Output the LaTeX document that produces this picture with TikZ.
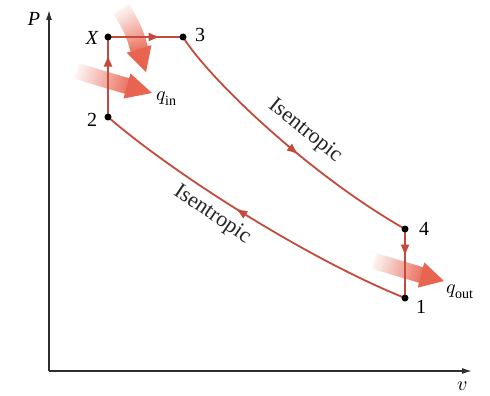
\documentclass[tikz,border=0pt]{standalone}
\usepackage{fontspec}
\setmainfont{Liberation Serif}
\usepackage{unicode-math}
\setmathfont{Latin Modern Math}
\usetikzlibrary{calc,decorations.markings,arrows.meta}
\definecolor{cyc}{RGB}{196,74,62}
\definecolor{heat}{RGB}{232,100,80}
\definecolor{axisc}{RGB}{45,45,50}
\tikzset{
  cycline/.style={draw=cyc, line width=1.8pt},
  midarrow/.style={postaction={decorate,decoration={markings,
     mark=at position #1 with {\arrow[cyc]{Latex[length=12pt,width=9pt]}}}}},
  statept/.style={circle, fill=black, inner sep=0pt, minimum size=7pt},
  lbl/.style={font=\fontsize{20}{22}\selectfont, inner sep=1pt},
  isolbl/.style={font=\fontsize{22}{24}\selectfont, inner sep=1pt, text=black!85},
  axisline/.style={draw=axisc, line width=1.4pt, -{Latex[length=10pt,width=6pt]}}
}
% heat arrow: tail P0, control P1, shaft end P2, tip T, shaft width, head half width
\newcommand\heatarrow[6]{%
  \foreach \i in {0,...,23}{%
    \pgfmathsetmacro\ta{\i/24}%
    \pgfmathsetmacro\tb{(\i+1.3)/24}%
    \pgfmathsetmacro\cmix{8+\i*3.4}%
    \path let \p0=#1, \p1=#2, \p2=#3 in
      coordinate (ha) at ({(1-\ta)^2*\x0+2*\ta*(1-\ta)*\x1+\ta^2*\x2},{(1-\ta)^2*\y0+2*\ta*(1-\ta)*\y1+\ta^2*\y2})
      coordinate (hb) at ({(1-\tb)^2*\x0+2*\tb*(1-\tb)*\x1+\tb^2*\x2},{(1-\tb)^2*\y0+2*\tb*(1-\tb)*\y1+\tb^2*\y2});
    \draw[draw=heat!\cmix!white, line width=#5] (ha) -- (hb);
  }
  \fill[heat] ($#3!#6!90:#4$) -- #4 -- ($#3!#6!-90:#4$) -- cycle;
}
\begin{document}
\begin{tikzpicture}[x=1pt,y=-1pt]
\useasboundingbox (0,0) rectangle (490,396);
\fill[white] (0,0) rectangle (490,396);
% axes
\coordinate (O) at (49,371);
\coordinate (Ptop) at (49,10);
\coordinate (Vend) at (472,371);
\draw[axisline] (O) -- (Ptop);
\draw[axisline] (O) -- (Vend);
\node[lbl, font=\fontsize{20}{22}\selectfont\itshape] (Plab) at (34,19) {P};
\node[lbl] (vlab) at (462,386) {$v$};
% states
\coordinate (X) at (108,37);
\coordinate (S3) at (183,37);
\coordinate (S2) at (108,117);
\coordinate (S4) at (405,229);
\coordinate (S1) at (405,298);
% heat arrows (drawn below cycle lines)
\heatarrow{(121,9)}{(135,30)}{(139,49)}{(146,72)}{18pt}{13pt}
\heatarrow{(77,71)}{(103,79)}{(127,86)}{(152,93)}{16pt}{13pt}
\heatarrow{(374,261)}{(398,268)}{(421,275)}{(444,281)}{16pt}{13pt}
% cycle
\draw[cycline, midarrow=0.78] (S2) -- (X);
\draw[cycline, midarrow=0.7] (X) -- (S3);
\draw[cycline, midarrow=0.56] (S3) .. controls (210,80) and (310,175) .. (S4);
\draw[cycline, midarrow=0.4] (S4) -- (S1);
\draw[cycline, midarrow=0.55] (S1) .. controls (310,260) and (175,175) .. (S2);
\foreach \p in {X,S3,S2,S4,S1}{\node[statept] (d\p) at (\p) {};}
% labels
\node[lbl, font=\fontsize{20}{22}\selectfont\itshape] (Xlab) at (92,38) {X};
\node[lbl] (l3) at (200,35) {3};
\node[lbl] (l2) at (92,120) {2};
\node[lbl] (l4) at (424,229) {4};
\node[lbl] (l1) at (421,307) {1};
\node[lbl, anchor=west] (qin) at (155,99) {$q_{\mathrm{in}}$};
\node[lbl, anchor=west] (qout) at (445,292) {$q_{\mathrm{out}}$};
\node[isolbl, rotate=-39] (iso1) at (305,131) {Isentropic};
\node[isolbl, rotate=-34] (iso2) at (212,215) {Isentropic};
\end{tikzpicture}
\end{document}
